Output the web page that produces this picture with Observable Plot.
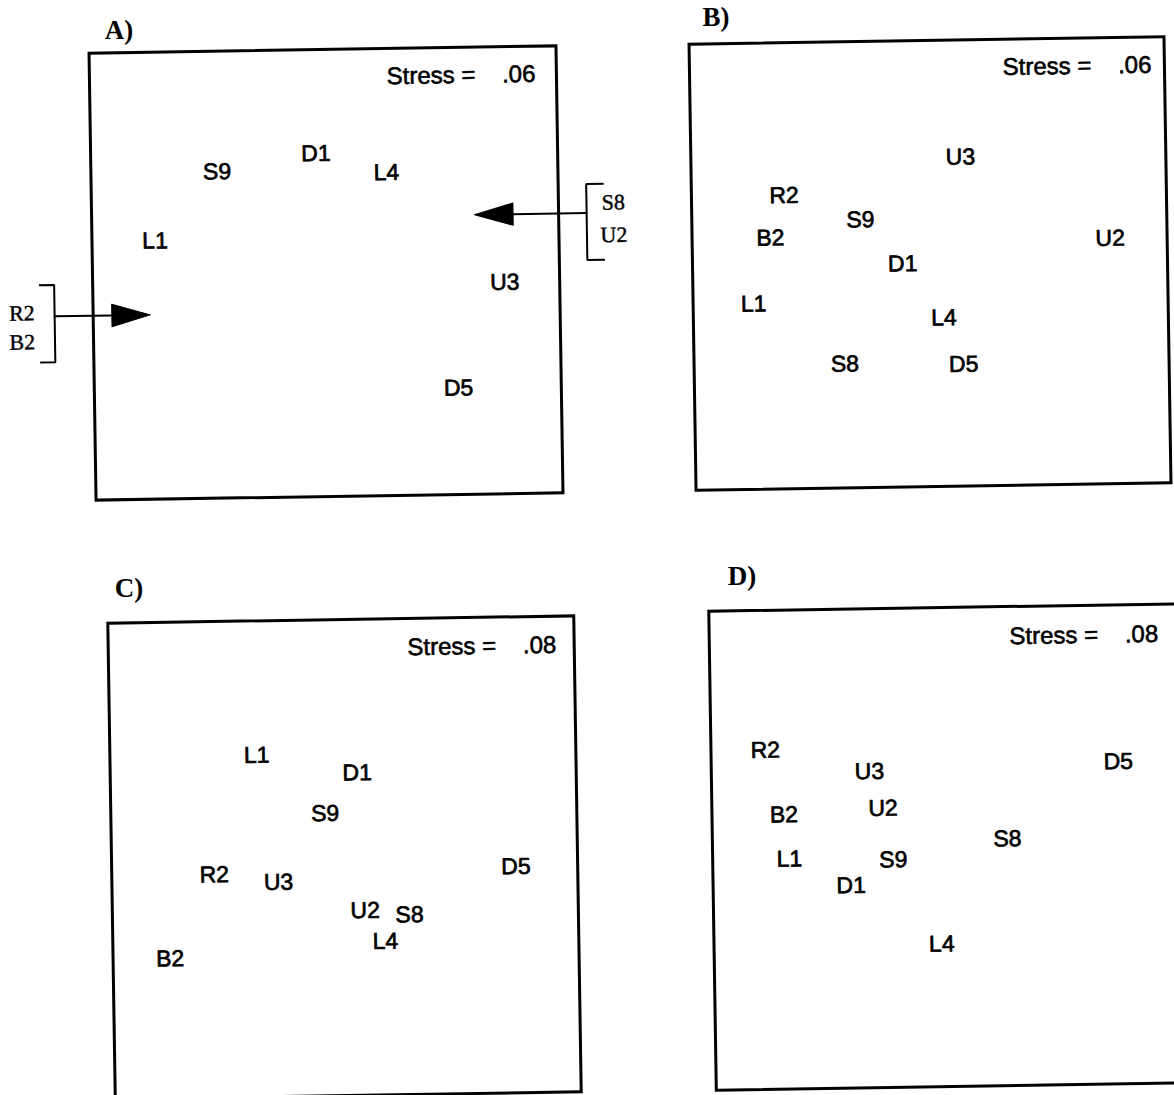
<!DOCTYPE html>
<html>
<head>
<meta charset="utf-8">
<script src="https://cdn.jsdelivr.net/npm/d3@7"></script>
<script src="https://cdn.jsdelivr.net/npm/@observablehq/plot@0.6"></script>
<style>
  html, body { margin: 0; padding: 0; background: #fff; overflow: hidden; }
  #stage { position: relative; width: 1174px; height: 1095px; overflow: hidden; background: #fff; }
  .panel { position: absolute; }
  .panel svg { max-width: none; overflow: visible; display: block; }
  .tag { position: absolute; font-family: "Liberation Serif", "Times New Roman", serif; font-weight: bold;
         font-size: 27px; line-height: 1; transform: translate(-50%, -50%); color: #000; white-space: nowrap; }
</style>
</head>
<body>
<div id="stage"></div>
<script>
// ---------- data ----------
const panelTags = ["A)", "B)", "C)", "D)"];
const stressValues = [".06", ".06", ".08", ".08"];

const labelsA = ["S9", "D1", "L4", "L1", "U3", "D5"];
const dim1A   = [-0.92, -0.07, 0.53, -1.46, 1.53, 1.12];
const dim2A   = [ 0.92,  1.07, 0.89,  0.31, -0.11, -1.05];

const labelsB = ["U3", "R2", "S9", "B2", "U2", "D1", "L1", "L4", "S8", "D5"];
const dim1B   = [0.27, -1.22, -0.58, -1.34, 1.52, -0.23, -1.49, 0.11, -0.73, 0.27];
const dim2B   = [0.95,  0.63,  0.40,  0.25, 0.20,  0.00, -0.34, -0.49, -0.89, -0.91];

const labelsC = ["L1", "D1", "S9", "R2", "U3", "D5", "U2", "S8", "L4", "B2"];
const dim1C   = [-0.74, 0.12, -0.16, -1.12, -0.57, 1.47, 0.17, 0.55, 0.34, -1.51];
const dim2C   = [ 0.87, 0.71,  0.37, -0.13, -0.20, -0.10, -0.45, -0.49, -0.71, -0.83];

const labelsD = ["R2", "U3", "D5", "B2", "U2", "S8", "L1", "S9", "D1", "L4"];
const dim1D   = [-1.54, -0.66, 1.45, -1.39, -0.55, 0.50, -1.35, -0.47, -0.83, -0.07];
const dim2D   = [ 0.83,  0.64, 0.69,  0.29,  0.33, 0.06, -0.08, -0.10, -0.31, -0.81];

// Panel A annotations: points lying outside the plotted region (grouped, with arrows)
const leftGroupLabels  = ["R2", "B2"];
const leftGroupX       = [-2.61, -2.61];
const leftGroupY       = [-0.32, -0.58];
const leftBracketX     = [-2.46, -2.33, -2.33, -2.46];
const leftBracketY     = [-0.07, -0.07, -0.76, -0.76];
const leftShaftX       = [-2.33, -1.84];
const leftShaftY       = [-0.35, -0.35];
const leftHeadX        = [-1.51, -1.84, -1.84, -1.51];
const leftHeadY        = [-0.35, -0.25, -0.45, -0.35];

const rightGroupLabels = ["S8", "U2"];
const rightGroupX      = [2.47, 2.47];
const rightGroupY      = [0.59, 0.30];
const rightBracketX    = [2.39, 2.24, 2.24, 2.39];
const rightBracketY    = [0.76, 0.76, 0.08, 0.08];
const rightShaftX      = [2.24, 1.61];
const rightShaftY      = [0.50, 0.50];
const rightHeadX       = [1.28, 1.61, 1.61, 1.28];
const rightHeadY       = [0.50, 0.60, 0.40, 0.50];

// ---------- rendering ----------
const SANS = "Liberation Sans, Arial, Helvetica, sans-serif";
const SERIF = "Liberation Serif, Times New Roman, serif";
const zip = (xs, ys) => xs.map((x, i) => ({x, y: ys[i]}));
const pointsOf = (labels, d1, d2) => labels.map((label, i) => ({label, d1: d1[i], d2: d2[i]}));

const annotationsA = [
  Plot.line(zip(leftBracketX, leftBracketY), {x: "x", y: "y", stroke: "black", strokeWidth: 2, strokeLinecap: "butt", strokeLinejoin: "miter"}),
  Plot.line(zip(leftShaftX, leftShaftY), {x: "x", y: "y", stroke: "black", strokeWidth: 2}),
  Plot.line(zip(leftHeadX, leftHeadY), {x: "x", y: "y", stroke: "black", strokeWidth: 1, fill: "black"}),
  Plot.text(pointsOf(leftGroupLabels, leftGroupX, leftGroupY), {x: "d1", y: "d2", text: "label", fontSize: 22, fontFamily: SERIF, fill: "black", stroke: "black", strokeWidth: 0.4}),
  Plot.line(zip(rightBracketX, rightBracketY), {x: "x", y: "y", stroke: "black", strokeWidth: 2, strokeLinecap: "butt", strokeLinejoin: "miter"}),
  Plot.line(zip(rightShaftX, rightShaftY), {x: "x", y: "y", stroke: "black", strokeWidth: 2}),
  Plot.line(zip(rightHeadX, rightHeadY), {x: "x", y: "y", stroke: "black", strokeWidth: 1, fill: "black"}),
  Plot.text(pointsOf(rightGroupLabels, rightGroupX, rightGroupY), {x: "d1", y: "d2", text: "label", fontSize: 22, fontFamily: SERIF, fill: "black", stroke: "black", strokeWidth: 0.4})
];

const panels = [
  {tag: panelTags[0], stress: stressValues[0], pts: pointsOf(labelsA, dim1A, dim2A),
   left: 0, top: 40, ml: 92, mt: 9, bw: 467, bh: 447, mr: 91, mb: 10, sdx: -21, sdy: 28,
   tagX: 119, tagY: 30, extra: annotationsA},
  {tag: panelTags[1], stress: stressValues[1], pts: pointsOf(labelsB, dim1B, dim2B),
   left: 680, top: 30, ml: 12, mt: 10, bw: 475, bh: 446, mr: 6, mb: 10, sdx: -13, sdy: 28,
   tagX: 716, tagY: 17, extra: []},
  {tag: panelTags[2], stress: stressValues[2], pts: pointsOf(labelsC, dim1C, dim2C),
   left: 100, top: 608, ml: 11, mt: 11, bw: 466, bh: 476, mr: 10, mb: 10, sdx: -18, sdy: 29,
   tagX: 129, tagY: 588, extra: []},
  {tag: panelTags[3], stress: stressValues[3], pts: pointsOf(labelsD, dim1D, dim2D),
   left: 700, top: 597, ml: 12, mt: 10, bw: 472, bh: 479, mr: 10, mb: 10, sdx: -23, sdy: 30,
   tagX: 742, tagY: 576, extra: []}
];

const stage = document.getElementById("stage");
for (const p of panels) {
  const width = p.ml + p.bw + p.mr;
  const height = p.mt + p.bh + p.mb;
  const stressText = "Stress =\u00a0\u00a0\u00a0 " + p.stress;
  const svg = Plot.plot({
    width, height,
    marginLeft: p.ml, marginRight: p.mr, marginTop: p.mt, marginBottom: p.mb,
    x: {domain: [-2, 2], axis: null},
    y: {domain: [-2, 2], axis: null},
    style: {background: "transparent", overflow: "visible"},
    marks: [
      Plot.frame({stroke: "black", strokeWidth: 3}),
      Plot.text(p.pts, {x: "d1", y: "d2", text: "label", fontSize: 23, fontFamily: SANS,
                        fill: "black", stroke: "black", strokeWidth: 0.7}),
      Plot.text([stressText], {text: d => d, frameAnchor: "top-right", dx: p.sdx, dy: p.sdy,
                               textAnchor: "end", lineAnchor: "middle", fontSize: 24,
                               fontFamily: SANS, fill: "black", stroke: "black", strokeWidth: 0.6}),
      ...p.extra
    ]
  });
  svg.style.transform = "rotate(-0.9deg)";
  svg.style.transformOrigin = `${p.ml + p.bw / 2}px ${p.mt + p.bh / 2}px`;
  const div = document.createElement("div");
  div.className = "panel";
  div.style.left = p.left + "px";
  div.style.top = p.top + "px";
  div.appendChild(svg);
  stage.appendChild(div);

  const tag = document.createElement("div");
  tag.className = "tag";
  tag.style.left = p.tagX + "px";
  tag.style.top = p.tagY + "px";
  tag.textContent = p.tag;
  stage.appendChild(tag);
}
</script>
</body>
</html>
